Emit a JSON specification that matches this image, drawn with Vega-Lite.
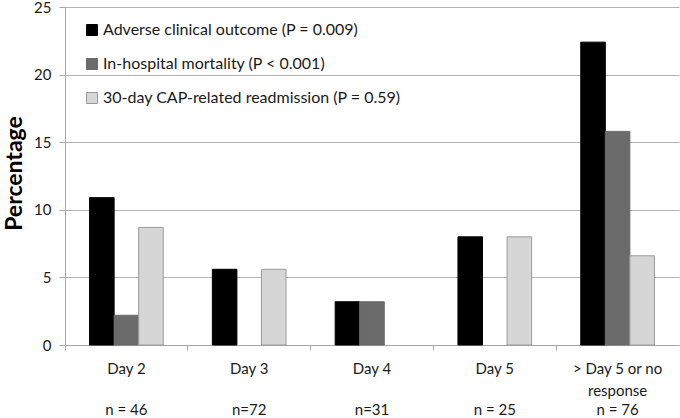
{
  "$schema": "https://vega.github.io/schema/vega-lite/v6.json",
  "width": 614,
  "height": 338,
  "autosize": {"type": "none"},
  "padding": {"left": 65, "top": 7, "right": 1, "bottom": 73},
  "background": "white",
  "config": {
    "font": "Lato",
    "view": {"stroke": null},
    "axis": {"labelFont": "Lato", "titleFont": "Lato", "labelColor": "#1a1a1a", "domainColor": "#a6a6a6", "tickColor": "#a6a6a6"}
  },
  "data": {
    "values": [
      {"day": "Day 2", "series": "Adverse clinical outcome (P = 0.009)", "pct": 10.9},
      {"day": "Day 2", "series": "In-hospital mortality (P < 0.001)", "pct": 2.2},
      {"day": "Day 2", "series": "30-day CAP-related readmission (P = 0.59)", "pct": 8.7},
      {"day": "Day 3", "series": "Adverse clinical outcome (P = 0.009)", "pct": 5.6},
      {"day": "Day 3", "series": "30-day CAP-related readmission (P = 0.59)", "pct": 5.6},
      {"day": "Day 4", "series": "Adverse clinical outcome (P = 0.009)", "pct": 3.2},
      {"day": "Day 4", "series": "In-hospital mortality (P < 0.001)", "pct": 3.2},
      {"day": "Day 5", "series": "Adverse clinical outcome (P = 0.009)", "pct": 8.0},
      {"day": "Day 5", "series": "30-day CAP-related readmission (P = 0.59)", "pct": 8.0},
      {"day": "> Day 5 or no response", "series": "Adverse clinical outcome (P = 0.009)", "pct": 22.4},
      {"day": "> Day 5 or no response", "series": "In-hospital mortality (P < 0.001)", "pct": 15.8},
      {"day": "> Day 5 or no response", "series": "30-day CAP-related readmission (P = 0.59)", "pct": 6.6}
    ]
  },
  "resolve": {"axis": {"x": "independent"}},
  "layer": [
    {
      "mark": {"type": "bar", "strokeWidth": 1},
      "encoding": {
        "x": {
          "field": "day",
          "type": "nominal",
          "sort": ["Day 2", "Day 3", "Day 4", "Day 5", "> Day 5 or no response"],
          "scale": {"paddingInner": 0, "paddingOuter": 0},
          "axis": {
            "orient": "bottom",
            "title": null,
            "labelAngle": 0,
            "labelFontSize": 15,
            "labelLineHeight": 22,
            "labelPadding": 11,
            "tickSize": 5,
            "bandPosition": 0,
            "grid": false,
            "labelExpr": "datum.value == '> Day 5 or no response' ? ['> Day 5 or no', 'response'] : datum.value"
          }
        },
        "xOffset": {
          "field": "series",
          "type": "nominal",
          "sort": ["Adverse clinical outcome (P = 0.009)", "In-hospital mortality (P < 0.001)", "30-day CAP-related readmission (P = 0.59)"],
          "scale": {"paddingInner": 0, "paddingOuter": 1.17}
        },
        "y": {
          "field": "pct",
          "type": "quantitative",
          "scale": {"domain": [0, 25], "nice": false},
          "axis": {
            "title": "Percentage",
            "titleFontSize": 23,
            "titleFontWeight": "bold",
            "titleColor": "#000000",
            "titleX": -44,
            "titleY": 166,
            "titleBaseline": "alphabetic",
            "values": [0, 5, 10, 15, 20, 25],
            "labelFontSize": 15,
            "labelPadding": 8,
            "tickSize": 6,
            "grid": true,
            "gridColor": "#b3b3b3",
            "gridWidth": 1
          }
        },
        "fill": {
          "field": "series",
          "type": "nominal",
          "sort": ["Adverse clinical outcome (P = 0.009)", "In-hospital mortality (P < 0.001)", "30-day CAP-related readmission (P = 0.59)"],
          "scale": {"range": ["#000000", "#6b6b6b", "#d6d6d6"]},
          "legend": {
            "title": null,
            "orient": "none",
            "legendX": 19,
            "legendY": 15,
            "symbolType": "square",
            "symbolSize": 121,
            "symbolStrokeWidth": 1,
            "labelFontSize": 16,
            "labelColor": "#1a1a1a",
            "labelLimit": 400,
            "rowPadding": 18,
            "labelOffset": 3,
            "encode": {
              "symbols": {
                "update": {
                  "stroke": {"scale": "stroke", "field": "value"}
                }
              }
            }
          }
        },
        "stroke": {
          "field": "series",
          "type": "nominal",
          "sort": ["Adverse clinical outcome (P = 0.009)", "In-hospital mortality (P < 0.001)", "30-day CAP-related readmission (P = 0.59)"],
          "scale": {"range": ["#000000", "#6b6b6b", "#9a9a9a"]},
          "legend": null
        }
      }
    },
    {
      "mark": {"type": "point", "opacity": 0},
      "encoding": {
        "x": {
          "field": "day",
          "type": "nominal",
          "sort": ["Day 2", "Day 3", "Day 4", "Day 5", "> Day 5 or no response"],
          "axis": {
            "orient": "bottom",
            "title": null,
            "labelAngle": 0,
            "labelFontSize": 15,
            "labelPadding": 57,
            "ticks": false,
            "tickSize": 0,
            "domain": false,
            "grid": false,
            "labelExpr": "datum.value == 'Day 2' ? 'n = 46' : datum.value == 'Day 3' ? 'n=72' : datum.value == 'Day 4' ? 'n=31' : datum.value == 'Day 5' ? 'n = 25' : 'n = 76'"
          }
        }
      }
    }
  ]
}
